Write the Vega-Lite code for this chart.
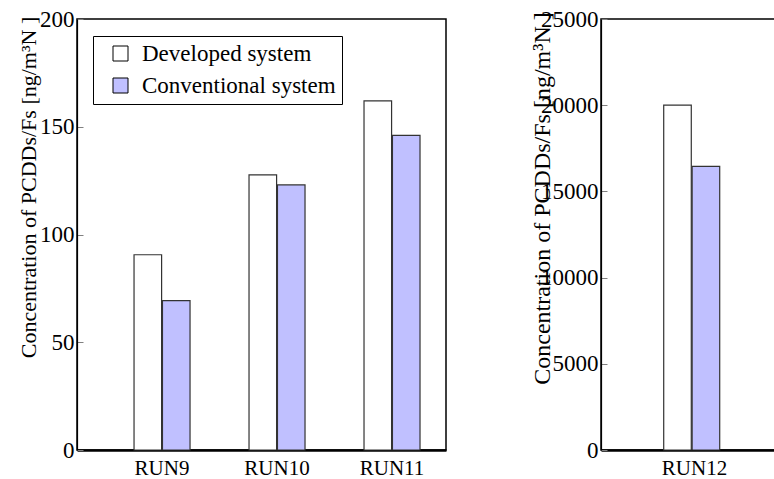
{
  "$schema": "https://vega.github.io/schema/vega-lite/v6.json",
  "padding": {"left": 16, "top": 7, "right": 0, "bottom": 0},
  "background": "white",
  "config": {
    "font": "Liberation Serif",
    "view": {"stroke": "black", "strokeWidth": 1.5},
    "concat": {"spacing": 155},
    "style": {"guide-label": {"font": "Liberation Serif", "fill": "black"}, "guide-title": {"font": "Liberation Serif", "fill": "black"}},
    "axis": {"labelFont": "Liberation Serif", "titleFont": "Liberation Serif", "labelColor": "black", "titleColor": "black", "titleFontWeight": "normal", "grid": false}
  },
  "bounds": "flush",
  "data": {
    "values": [
      {"panel": "A", "run": "RUN9", "system": "Developed system", "value": 90.6},
      {"panel": "A", "run": "RUN9", "system": "Conventional system", "value": 69.3},
      {"panel": "A", "run": "RUN10", "system": "Developed system", "value": 127.7},
      {"panel": "A", "run": "RUN10", "system": "Conventional system", "value": 123},
      {"panel": "A", "run": "RUN11", "system": "Developed system", "value": 162},
      {"panel": "A", "run": "RUN11", "system": "Conventional system", "value": 146},
      {"panel": "B", "run": "RUN12", "system": "Developed system", "value": 20000},
      {"panel": "B", "run": "RUN12", "system": "Conventional system", "value": 16450}
    ]
  },
  "resolve": {"scale": {"color": "independent"}, "legend": {"color": "independent"}},
  "hconcat": [
    {
      "width": 369,
      "height": 431,
      "transform": [{"filter": "datum.panel === 'A'"}],
      "mark": {"type": "bar", "stroke": "#333333", "strokeWidth": 1.2},
      "encoding": {
        "x": {
          "field": "run", "type": "nominal", "sort": ["RUN9", "RUN10", "RUN11"],
          "scale": {"domain": ["RUN9", "RUN10", "RUN11"], "paddingInner": 0.513, "paddingOuter": 0.361, "align": 0.687},
          "axis": {"title": null, "labelAngle": 0, "labelFont": "Liberation Serif", "labelColor": "black", "labelFontSize": 21, "ticks": false, "labelPadding": 7, "domainColor": "black", "domainWidth": 2.5}
        },
        "xOffset": {
          "field": "system", "type": "nominal",
          "scale": {"domain": ["Developed system", "Conventional system"], "paddingInner": 0.03}
        },
        "y": {
          "field": "value", "type": "quantitative",
          "scale": {"domain": [0, 200], "nice": false},
          "axis": {
            "values": [0, 50, 100, 150, 200],
            "title": "Concentration of PCDDs/Fs [ng/m³N ]",
            "titleFont": "Liberation Serif", "labelFont": "Liberation Serif", "labelColor": "black", "titleColor": "black",
            "titleFontSize": 22, "labelFontSize": 23,
            "titleX": -49, "titleY": 168, "titleAlign": "center", "titleBaseline": "middle", "titleAngle": -90,
            "tickSize": -6, "tickColor": "#808080", "labelPadding": 9,
            "domainColor": "black", "domainWidth": 1.2
          }
        },
        "color": {
          "field": "system", "type": "nominal",
          "scale": {"domain": ["Developed system", "Conventional system"], "range": ["#FFFFFF", "#C0C0FF"]},
          "legend": {
            "orient": "none", "legendX": 16, "legendY": 17, "title": null,
            "strokeColor": "black", "fillColor": "white", "padding": 6,
            "symbolType": "square", "symbolSize": 225, "symbolStrokeColor": "black", "symbolStrokeWidth": 1, "symbolOffset": 10,
            "labelFont": "Liberation Serif", "labelFontSize": 23, "labelColor": "black", "labelOffset": 10,
            "rowPadding": 8, "labelLimit": 400
          }
        }
      }
    },
    {
      "width": 174,
      "height": 431,
      "transform": [{"filter": "datum.panel === 'B'"}],
      "mark": {"type": "bar", "stroke": "#333333", "strokeWidth": 1.2},
      "encoding": {
        "x": {
          "field": "run", "type": "nominal",
          "scale": {"domain": ["RUN12"], "paddingInner": 0, "paddingOuter": 0.912, "align": 0.558},
          "axis": {"title": null, "labelAngle": 0, "labelFont": "Liberation Serif", "labelColor": "black", "labelFontSize": 21, "ticks": false, "labelPadding": 7, "domainColor": "black", "domainWidth": 2.5}
        },
        "xOffset": {
          "field": "system", "type": "nominal",
          "scale": {"domain": ["Developed system", "Conventional system"], "paddingInner": 0.03}
        },
        "y": {
          "field": "value", "type": "quantitative",
          "scale": {"domain": [0, 25000], "nice": false},
          "axis": {
            "values": [0, 5000, 10000, 15000, 20000, 25000], "format": "d",
            "title": "Concentration of PCDDs/Fs [ng/m³N ]",
            "titleFont": "Liberation Serif", "labelFont": "Liberation Serif", "labelColor": "black", "titleColor": "black",
            "titleFontSize": 24, "labelFontSize": 23,
            "titleX": -59, "titleY": 179, "titleAlign": "center", "titleBaseline": "middle", "titleAngle": -90,
            "tickSize": -6, "tickColor": "#808080", "labelPadding": 9,
            "domainColor": "black", "domainWidth": 1.2
          }
        },
        "color": {
          "field": "system", "type": "nominal",
          "scale": {"domain": ["Developed system", "Conventional system"], "range": ["#FFFFFF", "#C0C0FF"]},
          "legend": null
        }
      }
    }
  ]
}
